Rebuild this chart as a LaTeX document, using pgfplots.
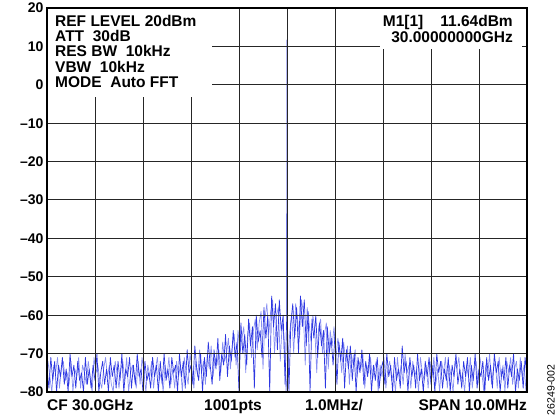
\documentclass[border=0pt]{standalone}
\usepackage{fontspec}
\setmainfont{Liberation Sans}
\usepackage{pgfplots}
\pgfplotsset{compat=1.18}
\definecolor{trace}{RGB}{45,55,225}
\definecolor{tracelight}{RGB}{105,115,240}
\newcommand\lbl{\bfseries\fontsize{15.5}{15.5}\selectfont}

\begin{document}
\begin{tikzpicture}
\begin{axis}[
    at={(0,0)}, anchor=south west,
    scale only axis,
    width=480pt, height=384pt,
    xmin=-5, xmax=5, ymin=-80, ymax=20,
    xtick={-5,-4,...,5}, xticklabels={},
    ytick={-80,-70,...,20},
    yticklabels={–80,–70,–60,–50,–40,–30,–20,–10,0,10,20},
    yticklabel style={font=\bfseries\fontsize{14}{14}\selectfont},
    major tick length=0pt,
    grid=major,
    grid style={black!85, line width=1pt},
    axis line style={black, line width=1.8pt},
    set layers=axis on top, axis on top,
    clip=false,
]
% marker-box backgrounds: above the grid, below the frame
\begin{pgfonlayer}{axis ticks}
  \fill[white] (axis cs:-5,-3.2) rectangle (axis cs:-1.56,20);
  \fill[white] (axis cs:1.94,9.3) rectangle (axis cs:4.9,20);
\end{pgfonlayer}

% second sweep, between the points of the first
\addplot[tracelight, line width=0.7pt, opacity=0.8, line join=round] coordinates {
(-4.98,-72) (-4.94,-76) (-4.90,-80) (-4.86,-73) (-4.82,-75) (-4.78,-71) (-4.74,-79) (-4.70,-74) (-4.66,-72) (-4.62,-77)
(-4.58,-75) (-4.54,-78) (-4.50,-72) (-4.46,-80) (-4.42,-74) (-4.38,-76) (-4.34,-71) (-4.30,-79) (-4.26,-73) (-4.22,-75)
(-4.18,-78) (-4.14,-72) (-4.10,-76) (-4.06,-80) (-4.02,-71) (-3.98,-75) (-3.94,-73) (-3.90,-77) (-3.86,-79) (-3.82,-74)
(-3.78,-71) (-3.74,-76) (-3.70,-73) (-3.66,-78) (-3.62,-80) (-3.58,-72) (-3.54,-75) (-3.50,-79) (-3.46,-74) (-3.42,-72)
(-3.38,-77) (-3.34,-71) (-3.30,-80) (-3.26,-75) (-3.22,-73) (-3.18,-76) (-3.14,-79) (-3.10,-72) (-3.06,-78) (-3.02,-71)
(-2.98,-75) (-2.94,-80) (-2.90,-73) (-2.86,-76) (-2.82,-72) (-2.78,-79) (-2.74,-74) (-2.70,-71) (-2.66,-77) (-2.62,-75)
(-2.58,-80) (-2.54,-73) (-2.50,-76) (-2.46,-71) (-2.42,-78) (-2.38,-74) (-2.34,-79) (-2.30,-72) (-2.26,-76) (-2.22,-73)
(-2.18,-80) (-2.14,-71) (-2.10,-75) (-2.06,-78) (-2.02,-70) (-1.98,-74) (-1.94,-79) (-1.90,-72) (-1.86,-76) (-1.82,-69)
(-1.78,-75) (-1.74,-72) (-1.70,-78) (-1.66,-70) (-1.62,-74) (-1.58,-68) (-1.54,-76) (-1.50,-71) (-1.46,-73) (-1.42,-69)
(-1.38,-75) (-1.34,-67) (-1.30,-72) (-1.26,-70) (-1.22,-66) (-1.18,-74) (-1.14,-68) (-1.10,-65) (-1.06,-73) (-1.02,-64)
(-0.98,-70) (-0.94,-66) (-0.90,-63) (-0.86,-75) (-0.82,-65) (-0.78,-62) (-0.74,-71) (-0.70,-64) (-0.66,-61) (-0.62,-69)
(-0.58,-62) (-0.54,-59) (-0.50,-74) (-0.46,-61) (-0.42,-57) (-0.38,-65) (-0.34,-59) (-0.30,-56) (-0.26,-70) (-0.22,-60)
(-0.18,-58) (-0.14,-72) (-0.10,-62) (-0.06,-66) (-0.02,-80)
(0.02,-72) (0.06,-64) (0.10,-60) (0.14,-70) (0.18,-57) (0.22,-61) (0.26,-66) (0.30,-56) (0.34,-59) (0.38,-73)
(0.42,-58) (0.46,-62) (0.50,-67) (0.54,-60) (0.58,-64) (0.62,-75) (0.66,-63) (0.70,-61) (0.74,-70) (0.78,-65)
(0.82,-62) (0.86,-74) (0.90,-64) (0.94,-68) (0.98,-63)
(1.02,-71) (1.06,-66) (1.10,-69) (1.14,-75) (1.18,-67) (1.22,-72) (1.26,-68) (1.30,-78) (1.34,-70) (1.38,-73)
(1.42,-69) (1.46,-76) (1.50,-72) (1.54,-74) (1.58,-70) (1.62,-79) (1.66,-73) (1.70,-75) (1.74,-71) (1.78,-77)
(1.82,-74) (1.86,-72) (1.90,-80) (1.94,-73) (1.98,-76) (2.02,-71) (2.06,-79) (2.10,-74) (2.14,-72) (2.18,-77)
(2.22,-75) (2.26,-80) (2.30,-71) (2.34,-76) (2.38,-73) (2.42,-78) (2.46,-70) (2.50,-75) (2.54,-73) (2.58,-79)
(2.62,-72) (2.66,-76) (2.70,-74) (2.74,-80) (2.78,-71) (2.82,-75) (2.86,-77) (2.90,-73) (2.94,-79) (2.98,-72)
(3.02,-76) (3.06,-71) (3.10,-78) (3.14,-74) (3.18,-80) (3.22,-72) (3.26,-75) (3.30,-71) (3.34,-79) (3.38,-73)
(3.42,-76) (3.46,-80) (3.50,-72) (3.54,-74) (3.58,-71) (3.62,-77) (3.66,-75) (3.70,-80) (3.74,-73) (3.78,-76)
(3.82,-71) (3.86,-79) (3.90,-74) (3.94,-72) (3.98,-78) (4.02,-71) (4.06,-75) (4.10,-80) (4.14,-73) (4.18,-76)
(4.22,-70) (4.26,-78) (4.30,-74) (4.34,-72) (4.38,-79) (4.42,-71) (4.46,-76) (4.50,-73) (4.54,-80) (4.58,-72)
(4.62,-75) (4.66,-71) (4.70,-78) (4.74,-74) (4.78,-72) (4.82,-79) (4.86,-71) (4.90,-76) (4.94,-73) (4.98,-80)
};

\addplot[trace, line width=0.7pt, line join=round] coordinates {
(-5.00,-74) (-4.96,-79) (-4.92,-71) (-4.88,-77) (-4.84,-72) (-4.80,-80)
(-4.76,-73) (-4.72,-76) (-4.68,-71) (-4.64,-78) (-4.60,-74) (-4.56,-80)
(-4.52,-70) (-4.48,-76) (-4.44,-73) (-4.40,-79) (-4.36,-72) (-4.32,-77)
(-4.28,-75) (-4.24,-80) (-4.20,-71) (-4.16,-78) (-4.12,-74) (-4.08,-79)
(-4.04,-73) (-4.00,-77) (-3.96,-70) (-3.92,-80) (-3.88,-75) (-3.84,-72)
(-3.80,-78) (-3.76,-74) (-3.72,-80) (-3.68,-71) (-3.64,-76) (-3.60,-73)
(-3.56,-79) (-3.52,-72) (-3.48,-77) (-3.44,-70) (-3.40,-80) (-3.36,-74)
(-3.32,-76) (-3.28,-71) (-3.24,-79) (-3.20,-73) (-3.16,-78) (-3.12,-70)
(-3.08,-76) (-3.04,-74) (-3.00,-80) (-2.96,-72) (-2.92,-77) (-2.88,-75)
(-2.84,-79) (-2.80,-71) (-2.76,-76) (-2.72,-73) (-2.68,-80) (-2.64,-72)
(-2.60,-78) (-2.56,-70) (-2.52,-77) (-2.48,-74) (-2.44,-79) (-2.40,-71)
(-2.36,-75) (-2.32,-73) (-2.28,-80) (-2.24,-70) (-2.20,-76) (-2.16,-72)
(-2.12,-79) (-2.08,-69) (-2.04,-75) (-2.00,-73) (-1.96,-78) (-1.92,-68)
(-1.88,-74) (-1.84,-77) (-1.80,-70) (-1.76,-80) (-1.72,-71) (-1.68,-76)
(-1.64,-67) (-1.60,-73) (-1.56,-78) (-1.52,-69) (-1.48,-74) (-1.44,-66)
(-1.40,-77) (-1.36,-70) (-1.32,-73) (-1.28,-65) (-1.24,-76) (-1.20,-68)
(-1.16,-72) (-1.12,-64) (-1.08,-71) (-1.04,-67) (-1.00,-80) (-0.96,-62)
(-0.92,-70) (-0.88,-65) (-0.84,-73) (-0.80,-61) (-0.76,-68) (-0.72,-63)
(-0.68,-79) (-0.64,-60) (-0.60,-67) (-0.56,-64) (-0.52,-71) (-0.48,-58)
(-0.44,-66) (-0.40,-60) (-0.36,-80) (-0.32,-55) (-0.28,-63) (-0.24,-57)
(-0.20,-69) (-0.16,-56) (-0.12,-64) (-0.08,-60) (-0.04,-78) (-0.005,-60)
(0.00,11.64) (0.005,-60)
(0.04,-80) (0.08,-62) (0.12,-57) (0.16,-66) (0.20,-58) (0.24,-70)
(0.28,-55) (0.32,-63) (0.36,-56) (0.40,-68) (0.44,-59) (0.48,-80)
(0.52,-61) (0.56,-66) (0.60,-60) (0.64,-71) (0.68,-62) (0.72,-68)
(0.76,-64) (0.80,-79) (0.84,-63) (0.88,-70) (0.92,-66) (0.96,-73)
(1.00,-65) (1.04,-78) (1.08,-67) (1.12,-72) (1.16,-66) (1.20,-79)
(1.24,-69) (1.28,-74) (1.32,-68) (1.36,-77) (1.40,-70) (1.44,-80)
(1.48,-71) (1.52,-75) (1.56,-69) (1.60,-78) (1.64,-72) (1.68,-76)
(1.72,-70) (1.76,-80) (1.80,-73) (1.84,-77) (1.88,-71) (1.92,-79)
(1.96,-74) (2.00,-72) (2.04,-78) (2.08,-70) (2.12,-76) (2.16,-73)
(2.20,-80) (2.24,-71) (2.28,-77) (2.32,-74) (2.36,-79) (2.40,-68)
(2.44,-75) (2.48,-72) (2.52,-80) (2.56,-71) (2.60,-76) (2.64,-73)
(2.68,-79) (2.72,-70) (2.76,-77) (2.80,-74) (2.84,-80) (2.88,-72)
(2.92,-76) (2.96,-71) (3.00,-78) (3.04,-73) (3.08,-80) (3.12,-70)
(3.16,-75) (3.20,-72) (3.24,-79) (3.28,-74) (3.32,-77) (3.36,-71)
(3.40,-80) (3.44,-73) (3.48,-76) (3.52,-70) (3.56,-78) (3.60,-74)
(3.64,-79) (3.68,-72) (3.72,-76) (3.76,-71) (3.80,-80) (3.84,-73)
(3.88,-77) (3.92,-70) (3.96,-79) (4.00,-74) (4.04,-76) (4.08,-72)
(4.12,-80) (4.16,-71) (4.20,-77) (4.24,-73) (4.28,-79) (4.32,-70)
(4.36,-75) (4.40,-72) (4.44,-80) (4.48,-74) (4.52,-77) (4.56,-71)
(4.60,-79) (4.64,-73) (4.68,-76) (4.72,-70) (4.76,-80) (4.80,-74)
(4.84,-77) (4.88,-72) (4.92,-79) (4.96,-71) (5.00,-76)
};

\begin{pgfonlayer}{axis foreground}
  \node[anchor=base west, inner sep=0pt, font=\lbl] at (axis cs:-4.833,15.31) {REF LEVEL 20dBm};
  \node[anchor=base west, inner sep=0pt, font=\lbl] at (axis cs:-4.833,11.28) {ATT\ \ 30dB};
  \node[anchor=base west, inner sep=0pt, font=\lbl] at (axis cs:-4.833,7.24) {RES BW\ \ 10kHz};
  \node[anchor=base west, inner sep=0pt, font=\lbl] at (axis cs:-4.833,3.20) {VBW\ \ 10kHz};
  \node[anchor=base west, inner sep=0pt, font=\lbl] at (axis cs:-4.833,-0.83) {MODE\ \ Auto FFT};
  \node[anchor=base east, inner sep=0pt, font=\lbl] at (axis cs:4.708,15.31) {M1[1]\hspace{17pt}11.64dBm};
  \node[anchor=base east, inner sep=0pt, font=\lbl] at (axis cs:4.708,11.1) {30.00000000GHz};
  \node[anchor=base west, inner sep=0pt, font=\lbl] at (axis cs:-5,-84.69) {CF 30.0GHz};
  \node[anchor=base, inner sep=0pt, font=\lbl] at (axis cs:-1.125,-84.69) {1001pts};
  \node[anchor=base, inner sep=0pt, font=\lbl] at (axis cs:0.979,-84.69) {1.0MHz/};
  \node[anchor=base east, inner sep=0pt, font=\lbl] at (axis cs:5,-84.69) {SPAN 10.0MHz};
  \node[rotate=90, inner sep=0pt, font=\fontsize{10.5}{10.5}\selectfont] at (axis cs:5.5,-79.5) {26249-002};
\end{pgfonlayer}
\end{axis}
\pgfresetboundingbox
\path[use as bounding box] (-47pt,-23pt) rectangle (512pt,392pt);
\end{tikzpicture}
\end{document}
